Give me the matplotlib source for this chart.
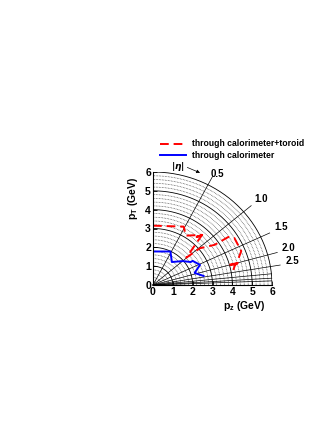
import numpy as np
import matplotlib
matplotlib.use("Agg")
import matplotlib.pyplot as plt

plt.rcParams['font.family'] = ['Liberation Sans', 'DejaVu Sans']
plt.rcParams['font.weight'] = 'bold'

# eta lines and labels
eta_labels = [0.5, 1.0, 1.5, 2.0, 2.5]
eta_extra = [3.0, 3.5, 4.0]

# trajectories (pz, pT) in GeV
red_pz = [0.0, 1.55, 1.65, 2.45, 2.2, 2.5, 1.68, 2.36, 3.1, 3.8, 4.1, 4.45, 4.2, 3.75, 4.4, 4.15, 4.05]
red_pt = [3.15, 3.1, 2.62, 2.66, 2.55, 2.7, 1.45, 1.95, 2.13, 2.55, 2.5, 1.8, 1.1, 1.05, 1.2, 1.1, 0.8]
blue_pz = [0.0, 0.88, 0.95, 1.5, 1.9, 2.0, 2.37, 2.1, 2.55]
blue_pt = [1.78, 1.78, 1.22, 1.27, 1.22, 1.28, 1.07, 0.64, 0.48]

fig = plt.figure(figsize=(3.32, 4.30), dpi=100)
ax = fig.add_axes([153/332, 145/430, 119/332, 113/430])

phi = np.linspace(0, np.pi/2, 200)
# dotted arcs
for r in np.arange(0.2, 6.0, 0.2):
    if abs(r - round(r)) < 1e-6:
        continue
    ax.plot(r*np.cos(phi), r*np.sin(phi), color='#333333', lw=0.5, ls=(0, (1, 1.2)))
# solid arcs
for r in range(1, 7):
    ax.plot(r*np.cos(phi), r*np.sin(phi), color='black', lw=0.6)

# eta lines
for e in eta_labels + eta_extra:
    th = 2*np.arctan(np.exp(-e))
    rmax = 6.5 if e in eta_labels else 6.0
    ax.plot([0, rmax*np.cos(th)], [0, rmax*np.sin(th)], color='black', lw=0.5, clip_on=False)
for e, r in zip(eta_labels, [6.45, 6.85, 6.85, 6.8, 6.85]):
    th = 2*np.arctan(np.exp(-e))
    ax.text(r*np.cos(th) + 0.25, r*np.sin(th) + 0.15, "%.1f" % e, fontsize=7,
            ha='center', va='center', fontweight='bold')

ax.text(1.25, 6.3, r"$|\eta|$", fontsize=6.5, ha='center', va='center', fontweight='normal')
ax.annotate("", xy=(2.5, 5.9), xytext=(1.6, 6.3),
            arrowprops=dict(arrowstyle='-|>', color='black', lw=0.5, mutation_scale=5),
            annotation_clip=False)

ax.plot(red_pz, red_pt, color='red', lw=1.4, ls=(0, (4.5, 2.5)))
ax.plot(blue_pz, blue_pt, color='blue', lw=1.4)

ax.set_xlim(0, 6)
ax.set_ylim(0, 6)
for s in ['top', 'right']:
    ax.spines[s].set_visible(False)
ax.spines['left'].set_linewidth(0.8)
ax.spines['bottom'].set_linewidth(0.8)
ax.set_xticks(range(7))
ax.set_yticks(range(7))
ax.tick_params(labelsize=7.5, direction='in', length=3, width=0.6, pad=1.5)
ax.set_xlabel(r"p$_\mathregular{z}$ (GeV)", fontsize=7.5, fontweight='bold', labelpad=1)
ax.xaxis.set_label_coords(0.77, -0.12)
ax.set_ylabel(r"p$_\mathregular{T}$ (GeV)", fontsize=7.5, fontweight='bold', labelpad=1)
ax.yaxis.set_label_coords(-0.11, 0.77)

# legend
fig.lines.append(plt.Line2D([160/332, 186/332], [1 - 144/430, 1 - 144/430], color='red', lw=1.4,
                            ls=(0, (4.5, 2.5)), transform=fig.transFigure))
fig.lines.append(plt.Line2D([160/332, 186/332], [1 - 155/430, 1 - 155/430], color='blue', lw=1.4,
                            transform=fig.transFigure))
fig.text(192/332, 1 - 144/430, "through calorimeter+toroid", fontsize=6.2, va='center', fontweight='bold')
fig.text(192/332, 1 - 155/430, "through calorimeter", fontsize=6.2, va='center', fontweight='bold')

fig.savefig("out.png", dpi=100)
